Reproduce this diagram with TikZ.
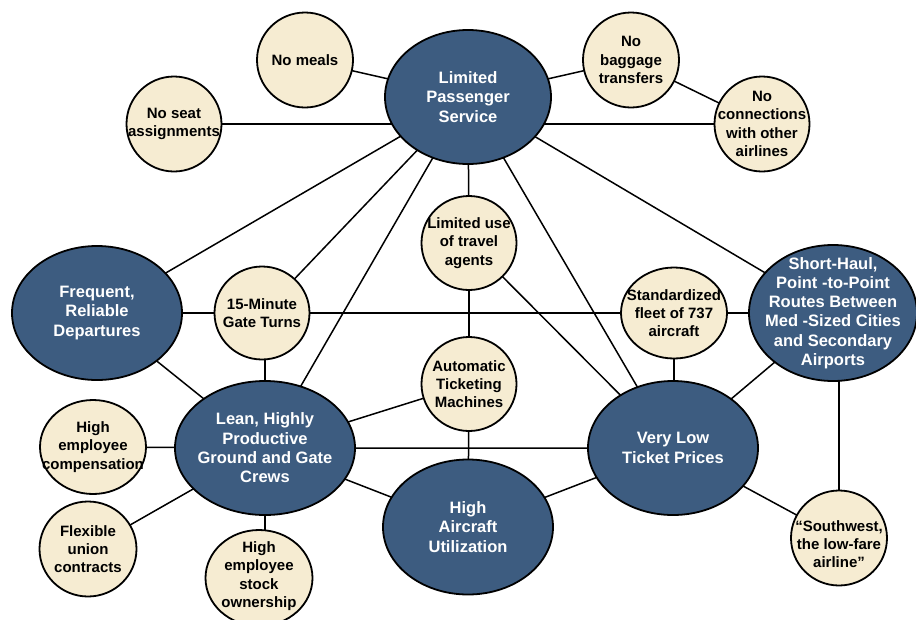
\documentclass[tikz,border=0pt]{standalone}
\usepackage{fontspec}
\setmainfont{Liberation Sans}
\usetikzlibrary{shapes.geometric,backgrounds}
\definecolor{navy}{RGB}{61,92,128}
\definecolor{cream}{RGB}{246,236,210}
\begin{document}
\begin{tikzpicture}[x=1pt,y=-1pt,
  bigell/.style={ellipse, draw=black, line width=1.8pt, fill=navy, inner sep=0pt},
  smallell/.style={ellipse, draw=black, line width=1.8pt, fill=cream, inner sep=0pt},
  btxt/.style={text=white, font=\fontsize{16.5}{19.3}\selectfont\bfseries, align=center, inner sep=0pt},
  ctxt/.style={text=black, font=\fontsize{15}{18.3}\selectfont\bfseries, align=center, inner sep=0pt},
  link/.style={line width=1.5pt, draw=black}]
\useasboundingbox (0,0) rectangle (916,619);

% big ellipses
\node[bigell, minimum width=166pt, minimum height=134pt] (lps) at (468,97) {};
\node[btxt] (lpst) at (lps.center) {Limited\\Passenger\\Service};
\node[bigell, minimum width=170pt, minimum height=134pt] (frd) at (97,313) {};
\node[btxt] (frdt) at (frd.center) {Frequent,\\Reliable\\Departures};
\node[bigell, minimum width=180pt, minimum height=134pt] (lean) at (265,448) {};
\node[btxt] (leant) at (lean.center) {Lean, Highly\\Productive\\Ground and Gate\\Crews};
\node[bigell, minimum width=170pt, minimum height=135pt] (hau) at (468,527) {};
\node[btxt] (haut) at (hau.center) {High\\Aircraft\\Utilization};
\node[bigell, minimum width=170pt, minimum height=134pt] (vltp) at (673,448) {};
\node[btxt] (vltpt) at (vltp.center) {Very Low\\Ticket Prices};
\node[bigell, minimum width=168pt, minimum height=136pt] (sh) at (833,313) {};
\node[btxt] (sht) at (sh.center) {Short-Haul,\\Point -to-Point\\Routes Between\\Med -Sized Cities\\and Secondary\\Airports};

% small circles
\node[smallell, minimum width=96pt, minimum height=95pt] (nomeals) at (305,60) {};
\node[ctxt] (nomealst) at (nomeals.center) {No meals};
\node[smallell, minimum width=96pt, minimum height=95pt] (nobag) at (631,60) {};
\node[ctxt] (nobagt) at (nobag.center) {No\\baggage\\transfers};
\node[smallell, minimum width=95pt, minimum height=95pt] (noseat) at (174,124) {};
\node[ctxt] (noseatt) at (noseat.center) {No seat\\assignments};
\node[smallell, minimum width=95pt, minimum height=95pt] (noconn) at (762,124) {};
\node[ctxt] (noconnt) at (noconn.center) {No\\connections\\with other\\airlines};
\node[smallell, minimum width=95pt, minimum height=93pt] (gt) at (262,313) {};
\node[ctxt] (gtt) at (gt.center) {15-Minute\\Gate Turns};
\node[smallell, minimum width=95pt, minimum height=94pt] (luta) at (469,243) {};
\node[ctxt] (lutat) at (luta.center) {Limited use\\of travel\\agents};
\node[smallell, minimum width=106pt, minimum height=91pt] (sf) at (674,313) {};
\node[ctxt] (sft) at (sf.center) {Standardized\\fleet of 737\\aircraft};
\node[smallell, minimum width=95pt, minimum height=94pt] (atm) at (469,384) {};
\node[ctxt] (atmt) at (atm.center) {Automatic\\Ticketing\\Machines};
\node[smallell, minimum width=106pt, minimum height=94pt] (hec) at (93,447) {};
\node[ctxt] (hect) at (hec.center) {High\\employee\\compensation};
\node[smallell, minimum width=97pt, minimum height=95pt] (fuc) at (88,549) {};
\node[ctxt] (fuct) at (fuc.center) {Flexible\\union\\contracts};
\node[smallell, minimum width=107pt, minimum height=96pt] (heso) at (259,578) {};
\node[ctxt] (hesot) at (259,576) {High\\employee\\stock\\ownership};
\node[smallell, minimum width=96pt, minimum height=95pt] (sw) at (839,538) {};
\node[ctxt] (swt) at (839,544) {“Southwest,\\the low-fare\\airline”};

\begin{scope}[on background layer]
\draw[link] (noseat.center) -- (noconn.center);
\draw[link] (nomeals.center) -- (lps.center);
\draw[link] (nobag.center) -- (lps.center);
\draw[link] (nobag.center) -- (noconn.center);
\draw[link] (lps.center) -- (frd.center);
\draw[link] (lps.center) -- (gt.center);
\draw[link] (lps.center) -- (lean.center);
\draw[link] (lps.center) -- (luta.center);
\draw[link] (lps.center) -- (vltp.center);
\draw[link] (lps.center) -- (sh.center);
\draw[link] (frd.center) -- (gt.center) -- (sf.center) -- (sh.center);
\draw[link] (lean.center) -- (lean.center |- gt.center);
\draw[link] (frd.center) -- (lean.center);
\draw[link] (luta.center) -- (atm.center);
\draw[link] (atm.center) -- (hau.center);
\draw[link] (luta.center) -- (vltp.center);
\draw[link] (atm.center) -- (lean.center);
\draw[link] (hec.center) -- (lean.center) -- (vltp.center);
\draw[link] (lean.center) -- (fuc.center);
\draw[link] (lean.center) -- (lean.center |- heso.center);
\draw[link] (lean.center) -- (hau.center);
\draw[link] (hau.center) -- (vltp.center);
\draw[link] (sf.center) -- (sf.center |- vltp.center);
\draw[link] (vltp.center) -- (sh.center);
\draw[link] (vltp.center) -- (sw.center);
\draw[link] (sw.center) -- (sw.center |- sh.center);
\end{scope}
\end{tikzpicture}
\end{document}
